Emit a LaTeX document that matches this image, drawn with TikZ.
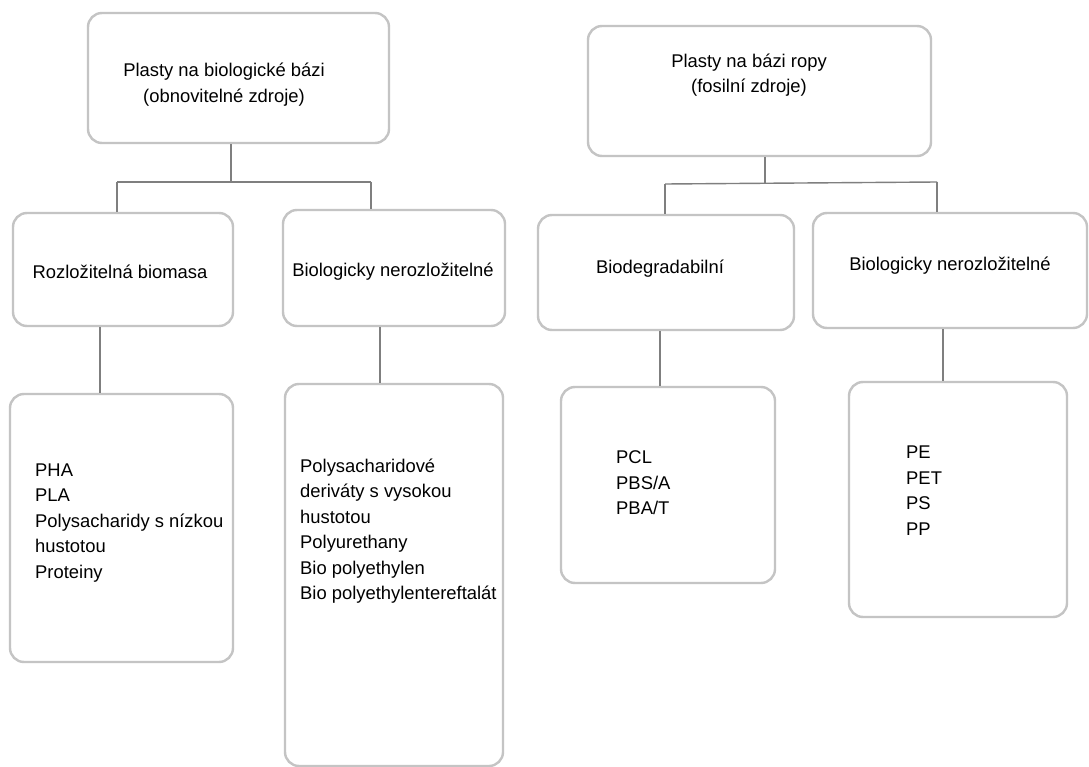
\documentclass[tikz,border=0pt]{standalone}
\usepackage{fontspec}
\setmainfont{Liberation Sans}
\definecolor{boxgray}{HTML}{C4C4C4}
\definecolor{linegray}{HTML}{7F7F7F}
\begin{document}
\begin{tikzpicture}[x=1pt,y=-1pt,
  box/.style={draw=boxgray,line width=2.4pt,rounded corners=14pt,inner sep=0pt},
  lbl/.style={inner sep=0pt,font=\fontsize{18.4}{25.5}\selectfont,text=black},
  conn/.style={draw=linegray,line width=1.4pt}]
\useasboundingbox (0,0) rectangle (1089,767);
\fill[white] (0,0) rectangle (1089,767);

% boxes
\node[box,minimum width=301pt,minimum height=130pt] (b1) at (238.5,78) {};
\node[box,minimum width=343pt,minimum height=130pt] (b2) at (759.5,91) {};
\node[box,minimum width=220pt,minimum height=113pt] (b3) at (123,269.5) {};
\node[box,minimum width=222pt,minimum height=116pt] (b4) at (394,268) {};
\node[box,minimum width=256pt,minimum height=115pt] (b5) at (666,272.5) {};
\node[box,minimum width=274pt,minimum height=115pt] (b6) at (950,270.5) {};
\node[box,minimum width=223pt,minimum height=268pt] (b7) at (121.5,528) {};
\node[box,minimum width=218pt,minimum height=382pt] (b8) at (394,575) {};
\node[box,minimum width=214pt,minimum height=196pt] (b9) at (668,485) {};
\node[box,minimum width=218pt,minimum height=235pt] (b10) at (958,499.5) {};

% texts
\node[lbl,align=center] (t1) at (224,84.5) {Plasty na biologické bázi\\(obnovitelné zdroje)};
\node[lbl,align=center] (t2) at (749,75) {Plasty na bázi ropy\\(fosilní zdroje)};
\node[lbl] (t3) at (120,272) {Rozložitelná biomasa};
\node[lbl] (t4) at (393,272) {Biologicky nerozložitelné};
\node[lbl] (t5) at (660,269) {Biodegradabilní};
\node[lbl] (t6) at (950,266) {Biologicky nerozložitelné};
\node[lbl,align=left,anchor=west] (t7) at (35,523) {PHA\\PLA\\Polysacharidy s nízkou\\hustotou\\Proteiny};
\node[lbl,align=left,anchor=west] (t8) at (300,531) {Polysacharidové\\deriváty s vysokou\\hustotou\\Polyurethany\\Bio polyethylen\\Bio polyethylentereftalát};
\node[lbl,align=left,anchor=west] (t9) at (616,483) {PCL\\PBS/A\\PBA/T};
\node[lbl,align=left,anchor=west] (t10) at (906,490.5) {PE\\PET\\PS\\PP};

% connectors, left tree
\coordinate (j1) at (231,182);
\coordinate (j1l) at (117,182);
\coordinate (j1r) at (371,182);
\draw[conn] (b1.south -| j1) -- (j1);
\draw[conn] (j1l) -- (j1r);
\draw[conn] (j1l) -- (j1l |- b3.north);
\draw[conn] (j1r) -- (j1r |- b4.north);

% connectors, right tree
\coordinate (j2) at (765,183);
\coordinate (j2l) at (665,184);
\coordinate (j2r) at (937,182);
\draw[conn] (b2.south -| j2) -- (j2);
\draw[conn] (j2l) -- (j2r);
\draw[conn] (j2l) -- (j2l |- b5.north);
\draw[conn] (j2r) -- (j2r |- b6.north);

% lower connectors
\coordinate (k3) at (100,0);
\coordinate (k4) at (380,0);
\coordinate (k5) at (660,0);
\coordinate (k6) at (943,0);
\draw[conn] (b3.south -| k3) -- (b7.north -| k3);
\draw[conn] (b4.south -| k4) -- (b8.north -| k4);
\draw[conn] (b5.south -| k5) -- (b9.north -| k5);
\draw[conn] (b6.south -| k6) -- (b10.north -| k6);
\end{tikzpicture}
\end{document}
